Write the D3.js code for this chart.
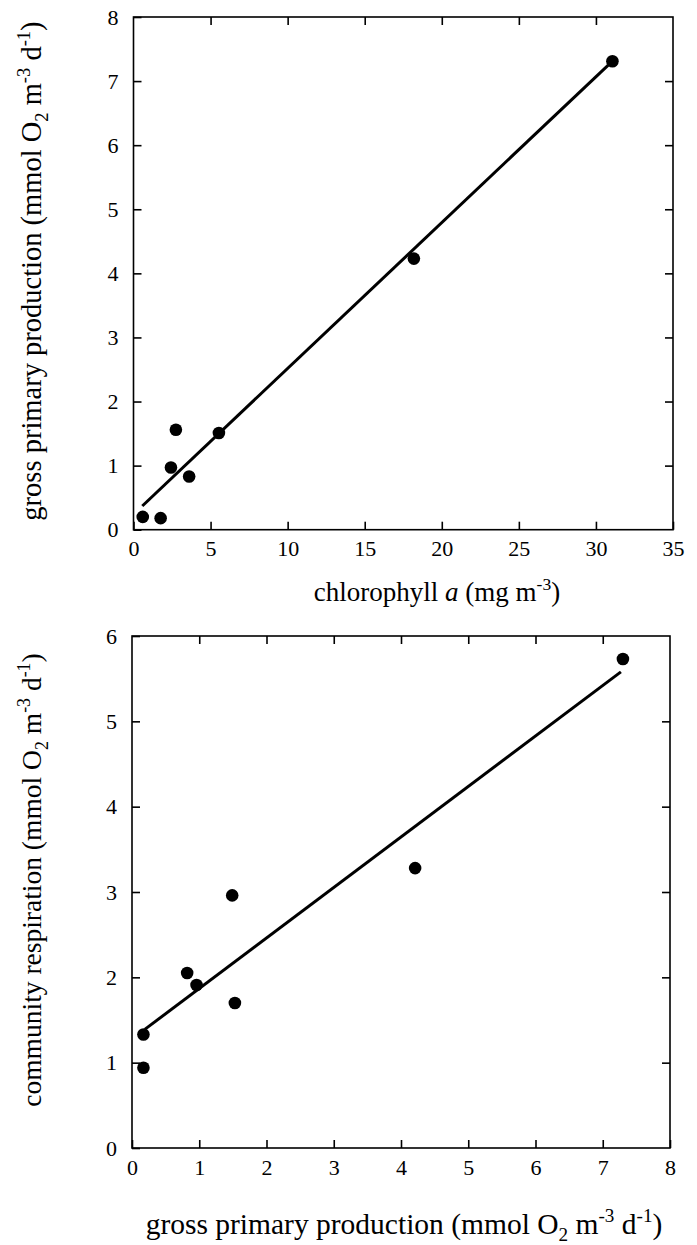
<!DOCTYPE html>
<html>
<head>
<meta charset="utf-8">
<script src="https://cdn.jsdelivr.net/npm/d3@7"></script>
<style>
  html, body { margin: 0; padding: 0; background: #fff; }
  svg { display: block; font-family: "Liberation Serif", "Times New Roman", serif; }
</style>
</head>
<body>
<svg id="chart" width="697" height="1245"></svg>
<script>
// ---- Panel A: chlorophyll a vs gross primary production ----
const chlA   = [0.60, 1.76, 2.43, 2.75, 3.61, 5.54, 18.19, 31.07];
const gppA   = [0.20, 0.18, 0.97, 1.56, 0.83, 1.51, 4.23, 7.31];
const fitAX  = [0.57, 30.8];
const fitAY  = [0.37, 7.25];
const ticksAX = [0, 5, 10, 15, 20, 25, 30, 35];
const ticksAY = [0, 1, 2, 3, 4, 5, 6, 7, 8];

// ---- Panel B: gross primary production vs community respiration ----
const gppB   = [0.17, 0.17, 0.82, 0.96, 1.49, 1.53, 4.21, 7.30];
const crB    = [1.33, 0.94, 2.05, 1.91, 2.96, 1.70, 3.28, 5.73];
const fitBX  = [0.19, 7.27];
const fitBY  = [1.39, 5.58];
const ticksBX = [0, 1, 2, 3, 4, 5, 6, 7, 8];
const ticksBY = [0, 1, 2, 3, 4, 5, 6];

const unitO2 = [
  {t: " (mmol O"}, {t: "2", sub: true}, {t: " m"}, {t: "-3", sup: true},
  {t: " d"}, {t: "-1", sup: true}, {t: ")"}
];
const labelAX = [{t: "chlorophyll "}, {t: "a", it: true}, {t: " (mg m"}, {t: "-3", sup: true}, {t: ")"}];
const labelAY = [{t: "gross primary production"}].concat(unitO2);
const labelBX = [{t: "gross primary production"}].concat(unitO2);
const labelBY = [{t: "community respiration"}].concat(unitO2);

const svg = d3.select("#chart");
const TICK_FS = 22;

function richText(sel, parts, fs) {
  let shift = 0;
  parts.forEach(p => {
    const ts = sel.append("tspan").text(p.t);
    let target = 0;
    if (p.sup) target = -0.4 * fs;
    if (p.sub) target = 0.25 * fs;
    ts.attr("dy", target - shift);
    shift = target;
    if (p.sup || p.sub) ts.attr("font-size", fs * 0.65);
    if (p.it) ts.attr("font-style", "italic");
  });
}

function panel(cfg) {
  const x = d3.scaleLinear().domain(cfg.xDomain).range([cfg.left, cfg.right]);
  const y = d3.scaleLinear().domain(cfg.yDomain).range([cfg.bottom, cfg.top]);
  const g = svg.append("g");

  // frame
  g.append("rect")
    .attr("x", cfg.left).attr("y", cfg.top)
    .attr("width", cfg.right - cfg.left).attr("height", cfg.bottom - cfg.top)
    .attr("fill", "none").attr("stroke", "#000").attr("stroke-width", 1.6);

  const styleAxis = (a) => {
    a.select(".domain").remove();
    a.selectAll(".tick line").attr("stroke", "#000").attr("stroke-width", 1.6);
    a.selectAll(".tick text").attr("fill", "#000")
      .attr("font-size", TICK_FS).attr("font-family", "Liberation Serif, serif");
  };

  g.append("g").attr("transform", `translate(0,${cfg.bottom})`)
    .call(d3.axisBottom(x).tickValues(cfg.xTicks).tickSize(-8).tickPadding(11).tickFormat(d3.format("d")))
    .call(styleAxis);
  g.append("g").attr("transform", `translate(0,${cfg.top})`)
    .call(d3.axisTop(x).tickValues(cfg.xTicks.slice(1, -1)).tickSize(-8).tickFormat(""))
    .call(styleAxis);
  g.append("g").attr("transform", `translate(${cfg.left},0)`)
    .call(d3.axisLeft(y).tickValues(cfg.yTicks).tickSize(-8).tickPadding(15).tickFormat(d3.format("d")))
    .call(styleAxis);
  g.append("g").attr("transform", `translate(${cfg.right},0)`)
    .call(d3.axisRight(y).tickValues(cfg.yTicks.slice(1, -1)).tickSize(-8).tickFormat(""))
    .call(styleAxis);

  // regression line
  const line = d3.line().x(d => x(d[0])).y(d => y(d[1]));
  g.append("path").datum(d3.zip(cfg.fitX, cfg.fitY))
    .attr("d", line).attr("fill", "none").attr("stroke", "#000").attr("stroke-width", 3);

  // points
  g.selectAll("circle.pt").data(d3.zip(cfg.xs, cfg.ys)).join("circle")
    .attr("class", "pt")
    .attr("cx", d => x(d[0])).attr("cy", d => y(d[1])).attr("r", 6.3).attr("fill", "#000");

  // x label
  const xl = g.append("text")
    .attr("x", cfg.xLabelX).attr("y", cfg.xLabelY)
    .attr("text-anchor", "middle").attr("font-size", cfg.xLabelFs).attr("fill", "#000");
  richText(xl, cfg.xLabel, cfg.xLabelFs);

  // y label
  const yl = g.append("text")
    .attr("transform", `translate(${cfg.yLabelX},${cfg.yLabelY}) rotate(-90)`)
    .attr("text-anchor", "middle").attr("font-size", cfg.yLabelFs).attr("fill", "#000");
  richText(yl, cfg.yLabel, cfg.yLabelFs);
}

panel({
  left: 133.5, right: 673, top: 17, bottom: 529.7,
  xDomain: [0, 35], yDomain: [0, 8], xTicks: ticksAX, yTicks: ticksAY,
  xs: chlA, ys: gppA, fitX: fitAX, fitY: fitAY,
  xLabel: labelAX, xLabelX: 437, xLabelY: 601, xLabelFs: 27,
  yLabel: labelAY, yLabelX: 41, yLabelY: 271, yLabelFs: 28.5
});

panel({
  left: 132, right: 670, top: 636, bottom: 1148,
  xDomain: [0, 8], yDomain: [0, 6], xTicks: ticksBX, yTicks: ticksBY,
  xs: gppB, ys: crB, fitX: fitBX, fitY: fitBY,
  xLabel: labelBX, xLabelX: 404, xLabelY: 1234, xLabelFs: 29.5,
  yLabel: labelBY, yLabelX: 41, yLabelY: 880, yLabelFs: 27.5
});
</script>
</body>
</html>
